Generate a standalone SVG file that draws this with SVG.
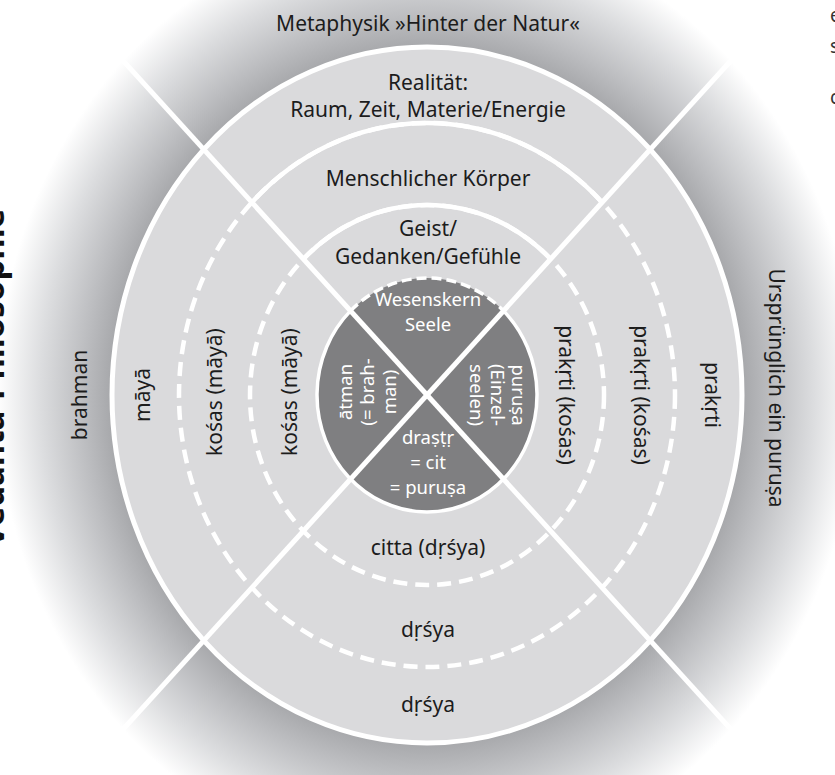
<svg xmlns="http://www.w3.org/2000/svg" width="835" height="775" viewBox="0 0 835 775">
<defs>
  <radialGradient id="outerGrad" gradientUnits="userSpaceOnUse" cx="427" cy="395" r="430" gradientTransform="translate(427 395) scale(1 1.1) translate(-427 -395)">
    <stop offset="0.72" stop-color="#a2a3a6"/>
    <stop offset="0.80" stop-color="#bcbdc0"/>
    <stop offset="0.90" stop-color="#dcdddf"/>
    <stop offset="1" stop-color="#ffffff"/>
  </radialGradient>
  <style>
    .lbl { font-family: "Noto Sans", "Open Sans", "DejaVu Sans", sans-serif; font-size: 21px; fill: #1c1c1c; text-anchor: middle; }
    .inv { font-family: "Noto Sans", "Open Sans", "DejaVu Sans", sans-serif; font-size: 18.5px; fill: #ffffff; text-anchor: middle; }
    .title { font-family: "Noto Sans", "DejaVu Sans", sans-serif; font-size: 33px; font-weight: bold; fill: #111; text-anchor: middle; }
    .frag { font-family: "Noto Sans", sans-serif; font-size: 19px; fill: #333; }
    .solid { fill: none; stroke: #ffffff; stroke-width: 4.5; }
    .dash { fill: none; stroke: #ffffff; stroke-width: 4.5; stroke-dasharray: 14 8; }
    .div { stroke: #ffffff; stroke-width: 5; }
  </style>
</defs>
<rect width="835" height="775" fill="#ffffff"/>

<g id="background">
  <ellipse cx="427" cy="395" rx="432" ry="475" fill="url(#outerGrad)"/>
</g>

<g id="ring-outer">
  <ellipse cx="427" cy="395" rx="315" ry="348" fill="#dadadc" stroke="#ffffff" stroke-width="5"/>
</g>

<g id="ring-body">
  <ellipse cx="427" cy="395" rx="248" ry="272" class="dash"/>
  <path d="M 251.9 202.4 A 248 272 0 0 1 602.1 202.4" class="solid"/>
</g>

<g id="ring-mind">
  <ellipse cx="427" cy="395" rx="177" ry="190" class="dash"/>
  <path d="M 303.4 259 A 177 190 0 0 1 550.6 259" class="solid"/>
</g>

<g id="core">
  <ellipse cx="427" cy="395" rx="110" ry="117" fill="#7f7f81"/>
  <path d="M 503.5 310.9 A 110 117 0 1 1 350.5 310.9" fill="none" stroke="#ffffff" stroke-width="3.5"/>
  <path d="M 350.5 310.9 A 110 117 0 0 1 503.5 310.9" fill="none" stroke="#ffffff" stroke-width="3.5" stroke-dasharray="10 5"/>
</g>

<g id="connectors">
  <line x1="27" y1="-45" x2="827" y2="835" class="div"/>
  <line x1="827" y1="-45" x2="27" y2="835" class="div"/>
</g>

<g id="label-top">
  <text class="lbl" x="428" y="31">Metaphysik »Hinter der Natur«</text>
  <text class="lbl" x="428" y="90">Realität:</text>
  <text class="lbl" x="428" y="117">Raum, Zeit, Materie/Energie</text>
  <text class="lbl" x="428" y="186">Menschlicher Körper</text>
  <text class="lbl" x="428" y="236">Geist/</text>
  <text class="lbl" x="428" y="264">Gedanken/Gefühle</text>
</g>

<g id="label-core">
  <text class="inv" x="428" y="306">Wesenskern</text>
  <text class="inv" x="428" y="331">Seele</text>
  <text class="inv" x="428" y="444">draṣṭṛ</text>
  <text class="inv" x="428" y="469">= cit</text>
  <text class="inv" x="428" y="494">= puruṣa</text>
  <text class="inv" transform="translate(352 392) rotate(-90)">ātman</text>
  <text class="inv" transform="translate(374 392) rotate(-90)">(= brah-</text>
  <text class="inv" transform="translate(396 392) rotate(-90)">man)</text>
  <text class="inv" transform="translate(512 395) rotate(90)">puruṣa</text>
  <text class="inv" transform="translate(491 395) rotate(90)">(Einzel-</text>
  <text class="inv" transform="translate(470 395) rotate(90)">seelen)</text>
</g>

<g id="label-left">
  <text class="lbl" transform="translate(87 395) rotate(-90)">brahman</text>
  <text class="lbl" transform="translate(150 395) rotate(-90)">māyā</text>
  <text class="lbl" transform="translate(222 392) rotate(-90)">kośas (māyā)</text>
  <text class="lbl" transform="translate(297 392) rotate(-90)">kośas (māyā)</text>
</g>

<g id="label-right">
  <text class="lbl" transform="translate(559 395) rotate(90)">prakṛti (kośas)</text>
  <text class="lbl" transform="translate(634 395) rotate(90)">prakṛti (kośas)</text>
  <text class="lbl" transform="translate(705 395) rotate(90)">prakṛti</text>
  <text class="lbl" transform="translate(769 388) rotate(90)">Ursprünglich ein puruṣa</text>
</g>

<g id="label-bottom">
  <text class="lbl" x="428" y="555">citta (dṛśya)</text>
  <text class="lbl" x="428" y="637">dṛśya</text>
  <text class="lbl" x="428" y="712">dṛśya</text>
</g>

<g id="title">
  <text class="title" transform="translate(4 378) rotate(-90)">Vedānta-Philosophie</text>
</g>

<g id="page-fragments">
  <text class="frag" x="830" y="22">e</text>
  <text class="frag" x="830" y="53">s</text>
  <text class="frag" x="830" y="104">c</text>
</g>
</svg>
